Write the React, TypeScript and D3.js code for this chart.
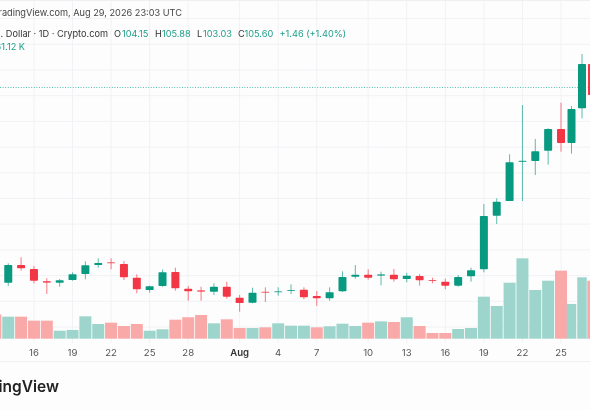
import * as d3 from "d3";

// one entry per daily candle, first one sits off the left edge
const opens = [71.6, 67.62, 71.06, 70.28, 67.95, 67.62, 68.14, 69.31, 71.06, 71.59, 71.26, 68.59, 66.2, 66.98, 69.7, 66.45, 66.14, 65.87, 66.84, 64.7, 63.73, 65.87, 65.75, 66.0, 66.26, 65.03, 64.58, 65.95, 68.79, 69.18, 68.98, 69.18, 68.34, 68.92, 68.14, 67.81, 67.04, 68.86, 70.23, 80.65, 83.51, 91.1, 91.3, 93.3, 97.52, 94.8, 101.55, 110.17];
const highs = [72.4, 71.39, 72.56, 70.87, 68.48, 68.34, 69.64, 71.78, 72.37, 72.37, 71.84, 69.25, 67.04, 70.15, 70.54, 66.98, 66.84, 67.5, 67.81, 65.23, 66.65, 66.72, 66.72, 67.31, 66.72, 66.0, 66.72, 69.84, 71.06, 70.23, 69.76, 70.28, 69.56, 69.31, 68.59, 68.4, 69.12, 70.54, 82.93, 84.04, 92.6, 102.19, 95.58, 97.66, 102.64, 102.0, 112.11, 111.5];
const lows = [70.2, 66.98, 69.95, 67.5, 65.42, 66.84, 68.01, 68.28, 70.54, 70.23, 68.14, 65.56, 65.67, 66.84, 66.06, 64.12, 64.12, 65.23, 64.51, 61.98, 63.61, 63.86, 65.09, 65.42, 64.39, 63.09, 64.12, 65.81, 68.4, 68.2, 67.11, 67.81, 67.7, 67.04, 67.5, 66.34, 66.84, 67.81, 69.64, 79.04, 83.51, 83.51, 88.57, 90.58, 93.11, 92.72, 99.6, 103.0];
const closes = [70.9, 71.06, 70.42, 68.01, 67.62, 68.09, 69.25, 71.0, 71.45, 71.45, 68.67, 66.34, 66.92, 69.64, 66.53, 65.95, 65.87, 66.84, 64.9, 63.67, 65.67, 65.75, 65.95, 66.2, 64.78, 64.58, 65.75, 68.73, 69.18, 68.59, 69.25, 68.28, 68.98, 68.09, 67.95, 67.04, 68.73, 70.03, 80.6, 83.38, 91.04, 91.35, 93.18, 97.52, 94.8, 101.41, 110.17, 104.14];
const volumes = [25.5, 23.2, 23.2, 19.0, 19.0, 8.4, 9.2, 23.6, 15.5, 16.9, 13.4, 15.5, 8.4, 9.9, 20.0, 22.6, 25.0, 16.2, 20.4, 11.3, 11.3, 12.0, 16.2, 13.7, 13.7, 12.0, 13.1, 15.8, 13.4, 16.9, 18.3, 17.6, 22.6, 13.4, 6.0, 6.0, 10.2, 11.3, 44.3, 34.5, 59.0, 84.7, 51.3, 61.1, 71.7, 36.6, 64.7, 61.1];
// bars whose colour differs from their candle
const volumeFlipped = [24];

const tickIndexes = [-1, 2, 5, 8, 11, 14, 18, 21, 24, 28, 31, 34, 37, 40, 43];
const tickLabels = ["13", "16", "19", "22", "25", "28", "Aug", "4", "7", "10", "13", "16", "19", "22", "25"];
const gridPrices = [119, 114, 109, 104, 99, 94, 89, 84, 79, 74, 69, 64, 59];
const lastPrice = 105.6;

const UP = "#089981";
const DOWN = "#f23645";
const UP_VOL = "#9dd5cc";
const DOWN_VOL = "#f8a9a8";
const GRID = "#f1f2f5";
const FONT = "Inter, 'Noto Sans', sans-serif";
const LABEL = "#1f9e8a";

const x = d3.scaleLinear().domain([-1, 43, 45, 46]).range([-4.6, 561, 582, 592]);
const y = d3.scaleLinear().domain([109, 59]).range([70, 327]);
const yVol = d3.scaleLinear().domain([0, 100]).range([338.7, 243.8]);

const vals = [
  ["O", "104.15", 114, 122],
  ["H", "105.88", 155, 162],
  ["L", "103.03", 197, 203],
  ["C", "105.60", 238, 244.5],
] as const;

export default function App() {
  return (
    <svg
      width={590}
      height={410}
      style={{ position: "absolute", left: 0, top: 0, background: "#fdfdfd", filter: "blur(0.45px)" }}
      fontFamily={FONT}
    >
      {gridPrices.map((p) => (
        <line key={p} x1={0} x2={590} y1={y(p)} y2={y(p)} stroke={GRID} />
      ))}
      {tickIndexes.map((i) => (
        <line key={i} x1={x(i)} x2={x(i)} y1={0} y2={343} stroke={GRID} />
      ))}
      <line x1={0} x2={590} y1={0.5} y2={0.5} stroke="#eeeff2" />
      <line x1={0} x2={590} y1={361.5} y2={361.5} stroke="#f0f1f3" />

      {volumes.map((v, i) => {
        const up = closes[i] >= opens[i];
        const green = volumeFlipped.includes(i) ? !up : up;
        const w = i > 44 ? 9.5 : 12;
        return (
          <rect
            key={i}
            x={x(i - 1) - w / 2}
            y={yVol(v)}
            width={w}
            height={yVol(0) - yVol(v)}
            fill={green ? UP_VOL : DOWN_VOL}
          />
        );
      })}

      <line
        x1={0}
        x2={590}
        y1={y(lastPrice)}
        y2={y(lastPrice)}
        stroke="#4fbfac"
        strokeDasharray="1 1.6"
      />

      {opens.map((o, i) => {
        const c = closes[i];
        const color = c >= o ? UP : DOWN;
        const cx = x(i - 1);
        const top = y(Math.max(o, c));
        const bottom = y(Math.min(o, c));
        return (
          <g key={i}>
            <line
              x1={cx}
              x2={cx}
              y1={y(highs[i])}
              y2={y(lows[i])}
              stroke={color}
              strokeOpacity={0.65}
            />
            <rect
              x={cx - 4}
              y={top}
              width={8}
              height={Math.max(bottom - top, 1)}
              rx={0.8}
              fill={color}
              fillOpacity={bottom - top < 2 ? 0.8 : 1}
            />
          </g>
        );
      })}

      {tickIndexes.map((i, k) => (
        <text
          key={i}
          x={x(i)}
          y={356}
          textAnchor="middle"
          fontSize={9.6}
          fontWeight={tickLabels[k] === "Aug" ? 600 : 400}
          fill={tickLabels[k] === "Aug" ? "#333" : "#555"}
        >
          {tickLabels[k]}
        </text>
      ))}

      <text x={182} y={15.5} textAnchor="end" fontSize={9.2} fill="#444">
        Published on TradingView.com, Aug 29, 2026 23:03 UTC
      </text>
      <text x={108} y={36.5} textAnchor="end" fontSize={9.2} fill="#333">
        Solana / U.S. Dollar · 1D · Crypto.com
      </text>
      {vals.map(([k, v, kx, vx]) => (
        <g key={k} fontSize={9.2}>
          <text x={kx} y={36.5} fill="#333">{k}</text>
          <text x={vx} y={36.5} fill={LABEL}>{v}</text>
        </g>
      ))}
      <text x={279.5} y={36.5} fontSize={9.2} fill={LABEL}>+1.46 (+1.40%)</text>
      <text x={25} y={50} textAnchor="end" fontSize={9.2} fill={LABEL}>261.12 K</text>

      <text x={59} y={392} textAnchor="end" fontSize={15.5} fontWeight={600} fill="#222">
        TradingView
      </text>
    </svg>
  );
}
